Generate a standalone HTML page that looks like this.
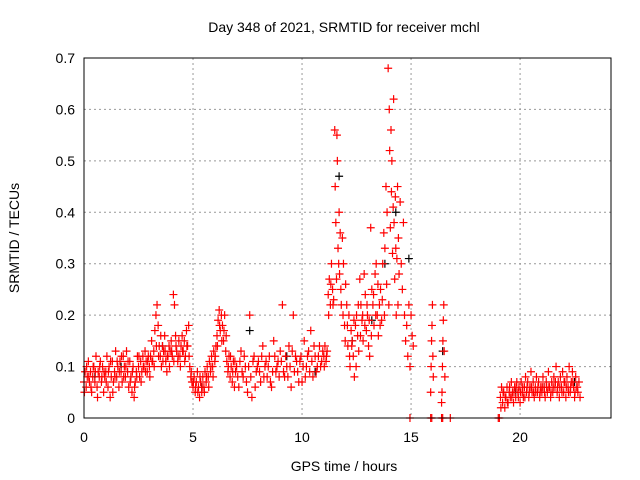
<!DOCTYPE html>
<html><head><meta charset="utf-8"><style>
body{margin:0;background:#fff;}
svg{display:block;font-family:"Liberation Sans",sans-serif;}
</style></head><body>
<svg id="c" width="640" height="480">
<text x="344" y="32" font-size="14" text-anchor="middle">Day 348 of 2021, SRMTID for receiver mchl</text>
<text x="344" y="471" font-size="14" text-anchor="middle">GPS time / hours</text>
<text transform="translate(19,238) rotate(-90)" font-size="14" text-anchor="middle">SRMTID / TECUs</text>
<g id="grid"></g><g id="ticks"></g><g id="black"></g><g id="red"></g>
<rect x="84" y="58" width="527" height="360" fill="none" stroke="#000"/>
</svg>
<script>
const xTicks=[0,5,10,15,20];
const yTicks=[0,0.1,0.2,0.3,0.4,0.5,0.6,0.7];
const yTickLabels=["0","0.1","0.2","0.3","0.4","0.5","0.6","0.7"];
// red series, [hour, TECU] pairs, grouped by time period
const redEarly=[[0,.07],[.05,.09],[.1,.06],[.15,.08],[.2,.11],[.25,.07],[.3,.09],[.35,.05],[.4,.08],[.45,.1],[.5,.07],[.55,.12],[.6,.06],[.65,.09],[.7,.08],[.75,.11],[.8,.07],[.85,.1],[.9,.05],[.95,.08],[1,.09],[1.05,.12],[1.1,.06],[1.15,.1],[1.2,.04],[1.25,.08],[1.3,.11],[1.35,.07],[1.4,.09],[1.45,.13],[1.5,.08],[1.55,.1],[1.6,.06],[1.65,.11],[1.7,.09],[1.75,.07],[1.8,.12],[1.85,.1],[1.9,.08],[1.95,.13],[2,.09],[2.05,.06],[2.1,.11],[2.15,.08],[2.2,.05],[2.25,.1],[2.3,.04],[2.35,.07],[2.4,.09],[2.45,.12],[2.5,.1],[2.55,.08],[2.6,.11],[2.65,.09],[2.7,.12],[2.75,.1],[2.8,.13],[2.85,.11],[2.9,.09],[2.95,.12],
[.02,.05],[.12,.1],[.22,.08],[.32,.06],[.42,.1],[.52,.09],[.62,.04],[.72,.1],[.82,.08],[.92,.09],[1.02,.07],[1.12,.09],[1.22,.11],[1.32,.05],[1.42,.08],[1.52,.11],[1.62,.09],[1.72,.12],[1.82,.08],[1.92,.1],[2.02,.11],[2.12,.07],[2.22,.09],[2.32,.06],[2.42,.08],[2.52,.12],[2.62,.07],[2.72,.1],[2.82,.09],[2.92,.11]];
const redMorning=[[3,.1],[3.05,.12],[3.1,.15],[3.15,.11],[3.2,.13],[3.25,.17],[3.3,.2],[3.35,.22],[3.4,.18],[3.45,.14],[3.5,.12],[3.55,.1],[3.6,.14],[3.65,.13],[3.7,.16],[3.75,.11],[3.8,.09],[3.85,.12],[3.9,.14],[3.95,.13],[4,.15],[4.05,.12],[4.1,.24],[4.15,.22],[4.2,.16],[4.25,.13],[4.3,.11],[4.35,.15],[4.4,.12],[4.45,.14],[4.5,.16],[4.55,.13],[4.6,.15],[4.65,.12],[4.7,.17],[4.75,.14],[4.8,.18],[4.85,.1],[4.9,.08],[4.95,.07],
[3.02,.08],[3.12,.11],[3.22,.1],[3.32,.14],[3.42,.12],[3.52,.16],[3.62,.11],[3.72,.13],[3.82,.12],[3.92,.1],[4.02,.13],[4.12,.11],[4.22,.14],[4.32,.12],[4.42,.1],[4.52,.13],[4.62,.11],[4.72,.14],[4.82,.12],[4.92,.09]];
const redMidday=[[5,.06],[5.05,.08],[5.1,.05],[5.15,.07],[5.2,.09],[5.25,.06],[5.3,.04],[5.35,.07],[5.4,.05],[5.45,.08],[5.5,.06],[5.55,.09],[5.6,.07],[5.65,.1],[5.7,.08],[5.75,.11],[5.8,.09],[5.85,.12],[5.9,.1],[5.95,.13],[6,.11],[6.05,.14],[6.1,.16],[6.15,.19],[6.2,.21],[6.25,.17],[6.3,.2],[6.35,.18],[6.4,.15],[6.45,.2],[6.5,.13],[6.55,.11],[6.6,.09],[6.65,.12],[6.7,.08],[6.75,.1],[6.8,.07],[6.85,.11],[6.9,.06],[6.95,.09],
[5.02,.07],[5.12,.06],[5.22,.05],[5.32,.08],[5.42,.06],[5.52,.05],[5.62,.08],[5.72,.06],[5.82,.1],[5.92,.08],[6.02,.12],[6.12,.14],[6.22,.18],[6.32,.15],[6.42,.17],[6.52,.16],[6.62,.1],[6.72,.12],[6.82,.09],[6.92,.11]];
const redAfternoon=[[7,.1],[7.1,.06],[7.2,.13],[7.3,.08],[7.4,.1],[7.5,.05],[7.6,.2],[7.7,.04],[7.8,.12],[7.9,.09],[8,.11],[8.1,.07],[8.2,.14],[8.3,.1],[8.4,.08],[8.5,.12],[8.6,.06],[8.7,.15],[8.8,.09],[8.9,.11],[9,.13],[9.1,.22],[9.2,.08],[9.3,.1],[9.4,.14],[9.5,.06],[9.6,.2],[9.7,.12],[9.8,.09],[9.9,.11],[10,.07],[10.1,.15],[10.2,.1],[10.3,.13],[10.4,.17],[10.5,.08],[10.6,.12],[10.7,.1],[10.8,.14],[10.9,.11],
[7.05,.08],[7.15,.11],[7.25,.09],[7.35,.12],[7.45,.07],[7.55,.1],[7.65,.08],[7.75,.11],[7.85,.06],[7.95,.1],[8.05,.09],[8.15,.12],[8.25,.08],[8.35,.11],[8.45,.1],[8.55,.07],[8.65,.09],[8.75,.12],[8.85,.1],[8.95,.08],[9.05,.11],[9.15,.09],[9.25,.12],[9.35,.08],[9.45,.1],[9.55,.13],[9.65,.09],[9.75,.11],[9.85,.07],[9.95,.12],[10.05,.1],[10.15,.08],[10.25,.12],[10.35,.09],[10.45,.11],[10.55,.14],[10.65,.09],[10.75,.12],[10.85,.1],[10.95,.13]];
const redStorm=[[11,.12],[11.05,.14],[11.1,.11],[11.15,.13],[11.2,.24],[11.25,.27],[11.3,.22],[11.35,.3],[11.4,.25],[11.45,.23],[11.5,.56],[11.52,.45],[11.55,.38],[11.6,.55],[11.62,.5],[11.65,.33],[11.7,.4],[11.72,.28],[11.75,.36],[11.8,.22],[11.85,.35],[11.9,.3],[11.95,.18],[12,.26],[12.05,.22],[12.1,.14],[12.15,.2],[12.2,.1],[12.25,.17],[12.3,.15],[12.35,.12],[12.4,.08],[12.45,.18],[12.5,.2],[12.55,.16],[12.6,.13],[12.65,.27],[12.7,.22],[12.75,.19],[12.8,.15],[12.85,.28],[12.9,.24],[12.95,.17],[13,.2],[13.05,.14],[13.1,.12],[13.15,.37],[13.2,.25],[13.25,.22],[13.3,.18],[13.35,.28],[13.4,.3],[13.45,.2],[13.5,.16],[13.55,.22],[13.6,.25],[13.65,.19],[13.7,.3],[13.75,.36],[13.8,.33],[13.85,.45],[13.9,.4],[13.95,.68],[14,.6],[14.02,.52],[14.05,.37],[14.08,.56],[14.1,.44],[14.12,.5],[14.15,.32],[14.18,.41],[14.2,.62],[14.22,.38],[14.25,.27],[14.28,.43],[14.3,.33],[14.32,.2],[14.35,.31],[14.38,.45],[14.4,.22],[14.42,.35],[14.45,.28],[14.5,.42],[14.55,.3],[14.6,.25],[14.65,.38],[14.7,.2],[14.75,.15],[14.8,.18],[14.85,.12],[14.9,.22],[14.95,.1],[15,.2],[15.05,.16],[15.1,.14],
[11.02,.1],[11.12,.12],[11.22,.2],[11.32,.26],[11.42,.22],[11.58,.27],[11.68,.3],[11.78,.25],[11.88,.2],[11.98,.15],[12.08,.18],[12.18,.12],[12.28,.14],[12.38,.19],[12.48,.1],[12.58,.22],[12.68,.16],[12.78,.2],[12.88,.18],[12.98,.22],[13.08,.19],[13.18,.16],[13.28,.24],[13.38,.2],[13.48,.26],[13.58,.18],[13.68,.23],[13.78,.2],[13.88,.26],[13.98,.22]];
const redLate=[[15.9,.05],[15.92,.1],[15.94,.15],[15.96,.18],[15.98,.22],[16,.12],[16.02,.08],[16.4,.03],[16.42,.05],[16.44,.1],[16.46,.15],[16.48,.19],[16.5,.22],[16.52,.13],[16.55,.08]];
const redNight=[[19.1,.04],[19.15,.06],[19.2,.03],[19.25,.05],[19.3,.02],[19.35,.04],[19.4,.06],[19.45,.03],[19.5,.05],[19.55,.04],[19.6,.07],[19.65,.05],[19.7,.03],[19.75,.06],[19.8,.04],[19.85,.07],[19.9,.05],[19.95,.06],[20,.03],[20.05,.07],[20.1,.05],[20.15,.04],[20.2,.06],[20.25,.08],[20.3,.05],[20.35,.07],[20.4,.04],[20.45,.06],[20.5,.09],[20.55,.05],[20.6,.07],[20.65,.04],[20.7,.06],[20.75,.08],[20.8,.05],[20.85,.07],[20.9,.04],[20.95,.06],[21,.05],[21.05,.08],[21.1,.06],[21.15,.04],[21.2,.07],[21.25,.05],[21.3,.09],[21.35,.06],[21.4,.04],[21.45,.07],[21.5,.05],[21.55,.08],[21.6,.06],[21.65,.1],[21.7,.05],[21.75,.07],[21.8,.04],[21.85,.08],[21.9,.06],[21.95,.09],[22,.05],[22.05,.07],[22.1,.04],[22.15,.08],[22.2,.06],[22.25,.1],[22.3,.05],[22.35,.07],[22.4,.09],[22.45,.06],[22.5,.04],[22.55,.08],[22.6,.06],[22.65,.05],[22.7,.07],[22.75,.04],
[19.12,.02],[19.22,.05],[19.32,.04],[19.42,.03],[19.52,.06],[19.62,.04],[19.72,.05],[19.82,.06],[19.92,.04],[20.02,.05],[20.12,.06],[20.22,.04],[20.32,.06],[20.42,.05],[20.52,.06],[20.62,.05],[20.72,.05],[20.82,.06],[20.92,.05],[21.02,.06],[21.12,.05],[21.22,.06],[21.32,.06],[21.42,.05],[21.52,.06],[21.62,.07],[21.72,.06],[21.82,.06],[21.92,.05],[22.02,.07],[22.12,.06],[22.22,.05],[22.32,.06],[22.42,.07],[22.52,.05],[22.62,.06]];
const redZero=[[14.95,0],[15.9,0],[15.95,0],[16.4,0],[16.45,0],[16.8,0],[19,0],[19.05,0]];
const blackPts=[[.5,.08],[1.7,.1],[3.6,.14],[5.4,.06],[7.6,.17],[9.3,.12],[10.6,.09],[11.7,.47],[12.3,.15],[13.2,.19],[13.8,.3],[14.3,.4],[14.9,.31],[16.45,.13],[19.8,.05],[21.1,.06],[22.5,.07]];
const NS='http://www.w3.org/2000/svg';
const X0=84,X1=611,Y0=418,Y1=58,XMAX=24.17,YMAX=0.7;
function sx(t){return X0+(X1-X0)*t/XMAX;}
function sy(v){return Y0-(Y0-Y1)*v/YMAX;}
function mk(tag,at,parent){const e=document.createElementNS(NS,tag);for(const k in at)e.setAttribute(k,at[k]);document.getElementById(parent).appendChild(e);return e;}
xTicks.forEach(t=>{const x=sx(t);
 if(t>0){const g=mk('line',{x1:x,x2:x,y1:Y1,y2:Y0,stroke:'#999','stroke-dasharray':'2,3'},'grid');}
 const l=mk('text',{x:x,y:Y0+24,'font-size':14,'text-anchor':'middle'},'ticks');l.textContent=t;
 
 
});
yTicks.forEach((v,i)=>{const y=sy(v);
 if(v>0&&v<YMAX){const g=mk('line',{x1:X0,x2:X1,y1:y,y2:y,stroke:'#999','stroke-dasharray':'2,3'},'grid');}
 const l=mk('text',{x:X0-9,y:y+5,'font-size':14,'text-anchor':'end'},'ticks');l.textContent=yTickLabels[i];
 
 
});
function plus(P,col,parent,name){P.forEach(pt=>{const x=sx(pt[0]),y=sy(pt[1]);
 const p=mk('path',{d:`M${x-4},${y}h8M${x},${y-4}v8`,stroke:col,'stroke-width':1.2,fill:'none'},parent);
 
 
});}
plus(blackPts,'#000','black','black-point');
[redEarly,redMorning,redMidday,redAfternoon,redStorm,redLate,redNight,redZero].forEach(s=>plus(s,'#f00','red','red-point'));
</script>
</body></html>
